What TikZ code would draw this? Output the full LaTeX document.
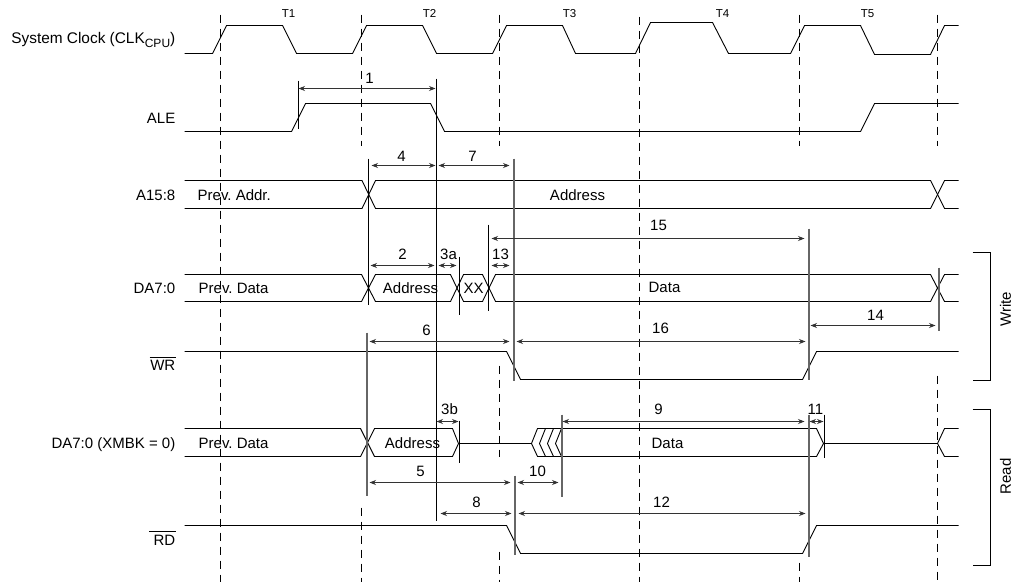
\documentclass[tikz,border=0pt]{standalone}
\usepackage{fontspec}
\setmainfont{Liberation Sans}
\usetikzlibrary{arrows.meta}
\frenchspacing
\tikzset{
  x=1pt,y=-1pt,
  sig/.style={line width=0.9pt,black,line join=miter},
  guide/.style={line width=0.9pt,black,dash pattern=on 8pt off 6pt},
  markblack/.style={line width=0.9pt,black},
  markgray/.style={line width=1.2pt,black!60},
  dimarrow/.style={line width=0.9pt,black!80,{Stealth[length=6.5pt,width=5pt]}-{Stealth[length=6.5pt,width=5pt]}},
  txt/.style={inner sep=0pt,text height=10.7pt,text depth=0pt,font=\fontsize{15}{15}\selectfont},
  sigl/.style={txt,anchor=east},
  ticklabel/.style={inner sep=0pt,text height=8.3pt,text depth=0pt,font=\fontsize{11.5}{12}\selectfont},
  rotlabel/.style={txt,rotate=90},
}
\begin{document}
\begin{tikzpicture}
\useasboundingbox[fill=white] (0,0) rectangle (1027,581);
\begin{scope}[xshift=-0.5pt,yshift=0.5pt]
% guides
\foreach \x/\a/\b [count=\i] in {221/15/582,362/15/146,362/508/582,500/15/146,500/366/457,500/552/582,640/17/582,800/15/146,800/563/582,938/15/146,938/376/582}
  \draw[guide] (\x,\a) coordinate (ga\i) -- (\x,\b) coordinate (gb\i);
% clock
\draw[sig] (185,54)--(213,54)--(227,26)--(283,26)--(297,54)--(353,54)--(367,26)--(423,26)--(437,54)--(493,54)--(507,26)--(563,26)--(576,54)--(636,54)--(651,23)--(713,23)--(729,54)--(791,54)--(805,26)--(861,26)--(875,55)--(931,55)--(945,26)--(959,26);
% ALE
\draw[sig] (185,132)--(292,132)--(306,104)--(431,104)--(445,132)--(861,132)--(875,104)--(959,104);
% A15:8
\draw[sig] (185,181)--(362.5,181)--(376,209)--(931,209)--(945,181)--(959,181);
\draw[sig] (185,209)--(362.5,209)--(376,181)--(931,181)--(945,209)--(959,209);
% DA7:0 write
\draw[sig] (185,275)--(362,275)--(376,302)--(451,302)--(464,275)--(483,275)--(496,302)--(931,302)--(945,275)--(959,275);
\draw[sig] (185,302)--(362,302)--(376,275)--(451,275)--(464,302)--(483,302)--(496,275)--(931,275)--(945,302)--(959,302);
% WR
\draw[sig] (185,352)--(507,352)--(521,380)--(803,380)--(817,352)--(959,352);
% DA7:0 read
\draw[sig] (185,429)--(361,429)--(375,457)--(453,457)--(459,444)--(453,429)--(375,429)--(361,457)--(185,457);
\draw[sig] (459,444)--(532,444);
\draw[sig] (532,444)--(538,429)--(817,429)--(824,444)--(817,457)--(538,457)--cycle;
\draw[sig] (546,429)--(540,444)--(546,457);
\draw[sig] (554,429)--(548,444)--(554,457);
\draw[sig] (562,429)--(556,444)--(562,457);
\draw[sig] (824,444)--(938,444)--(945,429)--(959,429);
\draw[sig] (938,444)--(945,457)--(959,457);
% RD
\draw[sig] (185,526)--(507,526)--(521,554)--(803,554)--(817,526)--(959,526);
% markers
\foreach \x/\a/\b [count=\i] in {299/81/129,437/79/521,369/159/305,460/257/315,489/225/311,460/421/463,825/415/458}
  \draw[markblack] (\x,\a) coordinate (ma\i) -- (\x,\b) coordinate (mb\i);
\foreach \x/\a/\b [count=\i] in {367.5/333/496,514.5/159/381,809.5/229/380,939.5/268/331,515.5/476/555,562.5/415/497,809.5/415/557}
  \draw[markgray] (\x,\a) coordinate (na\i) -- (\x,\b) coordinate (nb\i);
% dimension arrows
\foreach \p/\q/\y/\t/\lx/\ly [count=\i] in {
 299/436/89/1/370/79, 372/436/166/4/402/157, 439/510/166/7/473/157,
 371/435/266/2/403/255, 439/457/266/3a/449/255, 492/510/266/13/501/255,
 492/805/239/15/659/226, 370/510/342/6/427/331, 517/806/342/16/661/329,
 811/936/326/14/876/316, 437/459/422/3b/450/410, 563/805/422/9/659/410,
 810/824/422/11/816/410, 370/511/483/5/421/472, 518/559/483/10/538/472,
 441/512/514/8/477/503, 519/806/514/12/662/503}
{
  \coordinate (da\i) at (\p,\y);
  \coordinate (db\i) at (\q,\y);
  \draw[dimarrow] (da\i) -- (db\i);
  \node[txt] (dl\i) at (\lx,\ly) {\t};
}
% ticks
\node[ticklabel] (t1) at (289,14) {T1};
\node[ticklabel] (t2) at (430,14) {T2};
\node[ticklabel] (t3) at (570,14) {T3};
\node[ticklabel] (t4) at (723,14) {T4};
\node[ticklabel] (t5) at (868,14) {T5};
% signal labels
\node[sigl,font=\fontsize{15.4}{15}\selectfont] (lclk) at (176,39) {System Clock (CLK\raisebox{-3.5pt}{\fontsize{12}{12}\selectfont CPU})};
\node[sigl] (lale) at (176,119) {ALE};
\node[sigl] (la) at (176,196) {A15:8};
\node[sigl] (lda) at (176,289) {DA7:0};
\node[sigl] (lwr) at (176,366) {WR};
\node[sigl] (ldar) at (176,444) {DA7:0 (XMBK = 0)};
\node[sigl] (lrd) at (176,541) {RD};
\draw[line width=0.9pt] (150,358) coordinate (wa) -- (176,358) coordinate (wb);
\draw[line width=0.9pt] (149.5,532) coordinate (ra) -- (176,532) coordinate (rb);
% values
\node[txt,anchor=west] (v1) at (198,196) {Prev. Addr.};
\node[txt] (v2) at (578,195.5) {Address};
\node[txt,anchor=west] (v3) at (199,289) {Prev. Data};
\node[txt] (v4) at (411,289) {Address};
\node[txt] (v5) at (474,289) {XX};
\node[txt] (v6) at (665,288) {Data};
\node[txt,anchor=west] (v7) at (199,444) {Prev. Data};
\node[txt] (v8) at (413,444) {Address};
\node[txt] (v9) at (668,444) {Data};
% brackets
\draw[sig] (973,253) coordinate (w1) -- (991,253) -- (991,381) -- (973,381) coordinate (w2);
\draw[sig] (973,410) coordinate (r1) -- (991,410) -- (991,566) -- (973,566) coordinate (r2);
\node[rotlabel] (wt) at (1006,310) {Write};
\node[rotlabel] (rt) at (1006,477) {Read};
\end{scope}
\end{tikzpicture}
\end{document}
